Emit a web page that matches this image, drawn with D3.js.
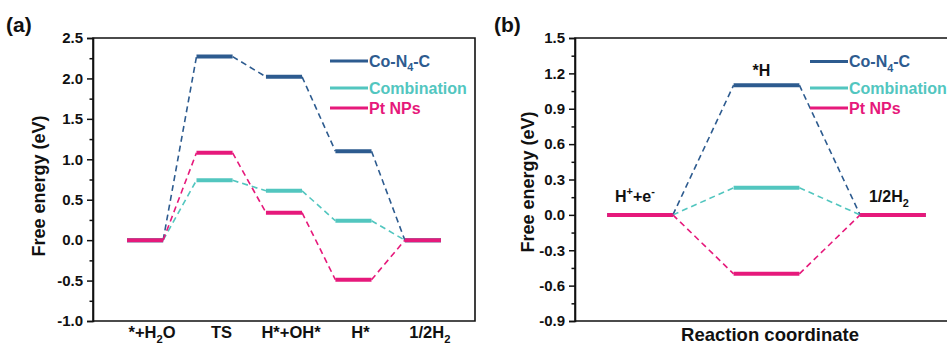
<!DOCTYPE html>
<html>
<head>
<meta charset="utf-8">
<script src="https://cdn.jsdelivr.net/npm/d3@7"></script>
<style>
  html, body { margin: 0; padding: 0; background: #fff; }
  svg { display: block; font-family: Arial, "Liberation Sans", sans-serif; font-weight: bold; }
</style>
</head>
<body>
<svg id="chart" width="947" height="345"></svg>
<script>
// ---- data ----
const seriesNames = ["Co-N_4-C", "Combination", "Pt NPs"];
const seriesColors = ["#2d5b8f", "#52c6bf", "#e6197b"];

// (a) water dissociation pathway
const stepsA = ["*+H_2O", "TS", "H*+OH*", "H*", "1/2H_2"];
const coA = [0, 2.27, 2.02, 1.10, 0];
const combA = [0, 0.74, 0.61, 0.24, 0];
const ptA = [0, 1.08, 0.34, -0.49, 0];
const ticksA = [-1.0, -0.5, 0.0, 0.5, 1.0, 1.5, 2.0, 2.5];

// (b) hydrogen evolution
const stepsB = ["H^++e^-", "*H", "1/2H_2"];
const coB = [0, 1.10, 0];
const combB = [0, 0.23, 0];
const ptB = [0, -0.50, 0];
const ticksB = [-0.9, -0.6, -0.3, 0.0, 0.3, 0.6, 0.9, 1.2, 1.5];

const svg = d3.select("#chart");
const fmt = d => d.toFixed(1);   // plain hyphen for negatives

// Append text with _x subscripts and ^x superscripts
function richText(sel, str, size) {
  const re = /([_^])(.)|([^_^]+)/g;
  let m, shift = 0;
  while ((m = re.exec(str)) !== null) {
    if (m[3]) {
      sel.append("tspan").attr("dy", -shift).text(m[3]);
      shift = 0;
    } else {
      const d = m[1] === "_" ? size * 0.3 : -size * 0.45;
      sel.append("tspan").attr("dy", d - shift).attr("font-size", size * 0.68).text(m[2]);
      shift = d;
    }
  }
}

function panel(cfg) {
  const g = svg.append("g");
  const x = d3.scaleLinear().domain(cfg.xDomain).range([cfg.left, cfg.right]);
  const y = d3.scaleLinear().domain(cfg.yDomain).range([cfg.bottom, cfg.top]);
  const hw = 0.26;

  // frame
  g.append("path")
    .attr("d", `M${cfg.left},${cfg.top}H${cfg.right}V${cfg.bottom}H${cfg.left}Z`)
    .attr("fill", "none").attr("stroke", "#111").attr("stroke-width", 1.6);

  // minor ticks
  const minor = [];
  for (let i = 0; i < cfg.ticks.length - 1; i++) minor.push((cfg.ticks[i] + cfg.ticks[i + 1]) / 2);
  g.append("g").attr("transform", `translate(${cfg.left},0)`)
    .call(d3.axisLeft(y).tickValues(minor).tickSize(3.5).tickFormat(""))
    .call(a => a.select(".domain").remove())
    .call(a => a.selectAll("text").remove())
    .call(a => a.selectAll("line").attr("stroke", "#111").attr("stroke-width", 1.5));
  // major ticks
  g.append("g").attr("transform", `translate(${cfg.left},0)`)
    .call(d3.axisLeft(y).tickValues(cfg.ticks).tickSize(6).tickPadding(4).tickFormat(fmt))
    .call(a => a.select(".domain").attr("stroke", "#111").attr("stroke-width", 1.6))
    .call(a => a.selectAll("line").attr("stroke", "#111").attr("stroke-width", 1.5))
    .call(a => a.selectAll("text").attr("font-size", 15).attr("font-family", "Arial, 'Liberation Sans', sans-serif")
      .attr("font-weight", "bold").attr("fill", "#111"));

  // energy levels and connectors
  cfg.series.forEach((vals, si) => {
    const color = seriesColors[si];
    for (let i = 0; i < vals.length - 1; i++) {
      g.append("line")
        .attr("x1", x(i + 1 + hw)).attr("y1", y(vals[i]))
        .attr("x2", x(i + 2 - hw)).attr("y2", y(vals[i + 1]))
        .attr("stroke", color).attr("stroke-width", 1.6).attr("stroke-dasharray", "6,4");
    }
    vals.forEach((v, i) => {
      g.append("line")
        .attr("x1", x(i + 1 - hw)).attr("x2", x(i + 1 + hw))
        .attr("y1", y(v)).attr("y2", y(v))
        .attr("stroke", color).attr("stroke-width", 4);
    });
  });

  // legend
  seriesNames.forEach((name, i) => {
    const ly = cfg.legendY[i];
    g.append("line").attr("x1", cfg.legendX).attr("x2", cfg.legendX + 38)
      .attr("y1", ly).attr("y2", ly).attr("stroke", seriesColors[i]).attr("stroke-width", 3);
    const t = g.append("text").attr("x", cfg.legendX + 39).attr("y", ly + 5.5)
      .attr("font-size", 16).attr("fill", seriesColors[i]);
    richText(t, name, 16);
  });

  // y title
  g.append("text")
    .attr("transform", `translate(${cfg.yTitleX},${cfg.yTitleY}) rotate(-90)`)
    .attr("text-anchor", "middle").attr("font-size", 18).attr("fill", "#111")
    .text("Free energy (eV)");

  // panel tag
  g.append("text").attr("x", cfg.tagX).attr("y", 32).attr("font-size", 21).attr("fill", "#111").text(cfg.tag);

  return { g, x, y };
}

// ---- panel (a) ----
const pa = panel({
  left: 93, right: 475, top: 38, bottom: 321,
  xDomain: [0.25, 5.75], yDomain: [-1.0, 2.5], ticks: ticksA,
  series: [coA, combA, ptA],
  legendX: 330, legendY: [61, 88, 108],
  yTitleX: 45, yTitleY: 186, tagX: 6, tag: "(a)"
});
stepsA.forEach((s, i) => {
  const t = pa.g.append("text").attr("x", pa.x(i + 1) + 7).attr("y", 338)
    .attr("text-anchor", "middle").attr("font-size", 16.5).attr("fill", "#111");
  richText(t, s, 16.5);
});

// ---- panel (b) ----
const pb = panel({
  left: 575, right: 970, top: 38, bottom: 321,
  xDomain: [0.486, 3.609], yDomain: [-0.9, 1.5], ticks: ticksB,
  series: [coB, combB, ptB],
  legendX: 810, legendY: [61.5, 88, 108],
  yTitleX: 534, yTitleY: 182, tagX: 494, tag: "(b)"
});
// state labels
const bLabelPos = [
  { dx: -25, y: 202 },
  { dx: -14, y: 76 },
  { dx: -24, y: 202 }
];
stepsB.forEach((s, i) => {
  const t = pb.g.append("text").attr("x", pb.x(i + 1) + bLabelPos[i].dx).attr("y", bLabelPos[i].y)
    .attr("font-size", 16).attr("fill", "#111");
  richText(t, s, 16);
});
pb.g.append("text").attr("x", 770).attr("y", 341).attr("text-anchor", "middle")
  .attr("font-size", 18.5).attr("fill", "#111").text("Reaction coordinate");
</script>
</body>
</html>
